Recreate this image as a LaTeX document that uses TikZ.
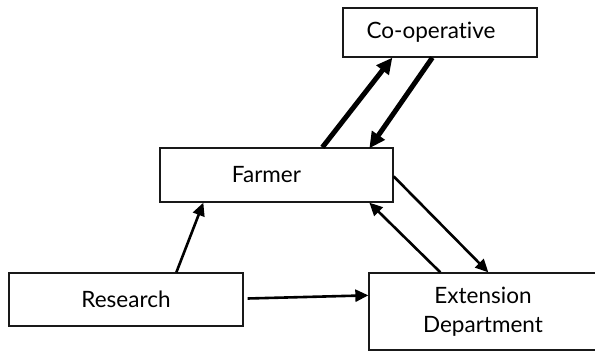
\documentclass[tikz,border=0pt]{standalone}
\usepackage{fontspec}
\setmainfont[Ligatures=NoCommon]{Lato}
\usetikzlibrary{arrows.meta,calc}
\begin{document}
\begin{tikzpicture}[x=1pt,y=1pt,
  box/.style={draw=black!90,line width=1.3pt,fill=white,inner sep=0pt,
              font=\fontsize{22.5}{29}\selectfont,align=center},
  bigarrow/.style={line width=5pt,-{Triangle[length=16pt,width=15pt]}},
  smallarrow/.style={line width=2.6pt,-{Triangle[length=13pt,width=12pt]}}]
  \useasboundingbox (0,0) rectangle (595,351);
  \clip (0,0) rectangle (595,351);

  % boxes
  \node[box,minimum width=194pt,minimum height=49pt] (coop) at (440,318.5) {\hspace*{-18pt}Co-operative};
  \node[box,minimum width=233pt,minimum height=54pt] (farmer) at (276.5,176) {\hspace*{-20pt}Farmer};
  \node[box,minimum width=234pt,minimum height=53pt] (research) at (126,51.5) {Research};
  \node[box,minimum width=228pt,minimum height=77pt] (ext) at (483,39.5) {Extension\\Department};

  % farmer <-> co-operative
  \draw[bigarrow] ($(farmer.north west)+(163,0)$) -- ($(coop.south west)+(50,0)$);
  \draw[bigarrow] ($(coop.south west)+(90,0)$) -- ($(farmer.north west)+(210,-1)$);

  % research -> farmer
  \draw[smallarrow] ($(research.north west)+(168,0)$) -- ($(farmer.south west)+(44,0)$);

  % farmer <-> extension department
  \draw[smallarrow] ($(farmer.north east)+(0,-29)$) -- ($(ext.north west)+(120,0)$);
  \draw[smallarrow] ($(ext.north west)+(72,0)$) -- ($(farmer.south west)+(210,0)$);

  % research -> extension department
  \draw[smallarrow] ($(research.east)+(4,1)$) -- ($(ext.north west)+(0,-23)$);
\end{tikzpicture}
\end{document}
